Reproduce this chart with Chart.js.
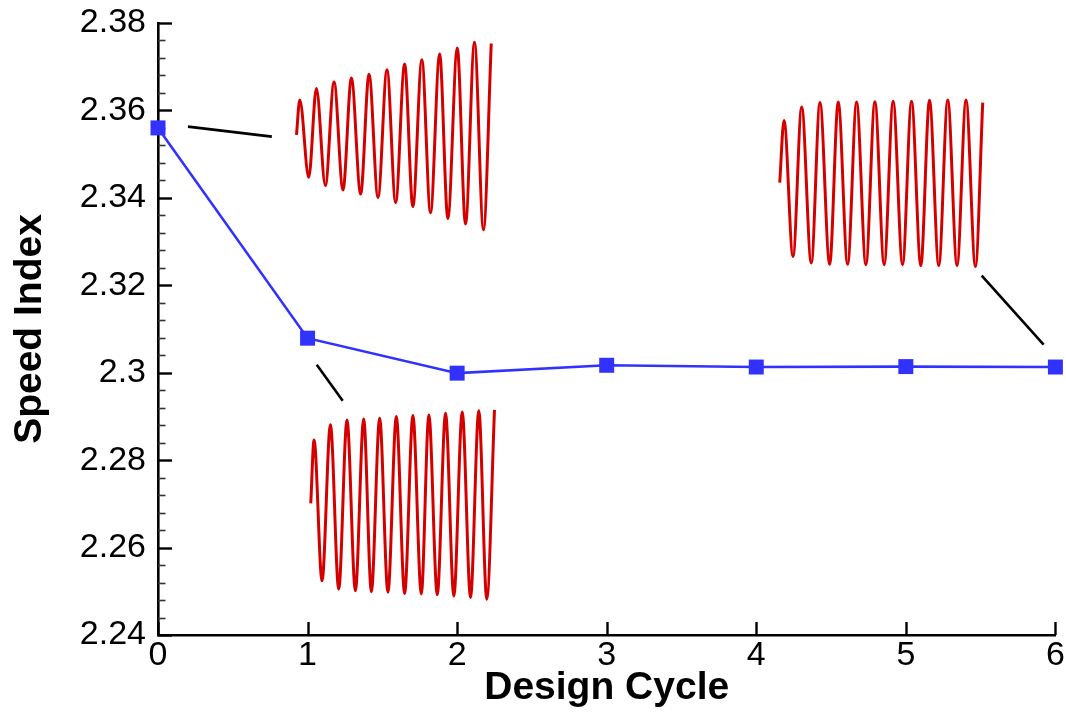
<!DOCTYPE html>
<html>
<head>
<meta charset="utf-8">
<script src="https://cdn.jsdelivr.net/npm/chart.js@4.4.1/dist/chart.umd.min.js"></script>
<style>
  html, body { margin: 0; padding: 0; background: #fff; }
  #wrap { width: 1066px; height: 712px; }
</style>
</head>
<body>
<div id="wrap"><canvas id="myChart" width="1066" height="712"></canvas></div>
<script>
// speed index per design cycle
const cycles = [0, 1, 2, 3, 4, 5, 6]
const speedIndex = [2.3560, 2.3079, 2.2999, 2.3017, 2.3013, 2.3014, 2.3013]

// axis ticks
const yMin = 2.24, yMax = 2.38, yMajor = 0.02, yMinor = 0.004
const xMin = 0, xMax = 6

// inset sketches (wave extrema, in chart units)
const inset1X = [0.926, 0.948, 1.008, 1.059, 1.119, 1.177, 1.237, 1.293, 1.355, 1.411, 1.471, 1.531, 1.589, 1.649, 1.704, 1.764, 1.822, 1.883, 1.938, 2.001, 2.056, 2.116, 2.176, 2.228]
const inset1Y = [2.3544, 2.3624, 2.3447, 2.3650, 2.3428, 2.3665, 2.3418, 2.3674, 2.3409, 2.3683, 2.3401, 2.3693, 2.3389, 2.3706, 2.3380, 2.3716, 2.3366, 2.3729, 2.3353, 2.3743, 2.3340, 2.3756, 2.3327, 2.3753]

const inset2X = [1.0214, 1.0434, 1.0968, 1.1529, 1.2083, 1.2637, 1.3198, 1.3752, 1.4266, 1.4820, 1.5374, 1.5935, 1.6489, 1.7043, 1.7604, 1.8111, 1.8672, 1.9226, 1.9780, 2.0341, 2.0895, 2.1449, 2.1983, 2.2497]
const inset2Y = [2.2701, 2.2846, 2.2524, 2.2881, 2.2505, 2.2892, 2.2501, 2.2894, 2.2499, 2.2896, 2.2498, 2.2900, 2.2495, 2.2902, 2.2494, 2.2903, 2.2492, 2.2907, 2.2489, 2.2910, 2.2486, 2.2913, 2.2482, 2.2915]

const inset3X = [4.1569, 4.1856, 4.2457, 4.3037, 4.3678, 4.4259, 4.4907, 4.5481, 4.6108, 4.6709, 4.7330, 4.7931, 4.8551, 4.9152, 4.9780, 5.0381, 5.1001, 5.1582, 5.2203, 5.2804, 5.3424, 5.4025, 5.4653, 5.5140]
const inset3Y = [2.3435, 2.3577, 2.3266, 2.3608, 2.3251, 2.3618, 2.3248, 2.3619, 2.3248, 2.3619, 2.3247, 2.3620, 2.3247, 2.3621, 2.3247, 2.3621, 2.3245, 2.3623, 2.3245, 2.3624, 2.3245, 2.3624, 2.3243, 2.3618]

// leader lines from points to insets
const lead1X = [0.2003, 0.7610], lead1Y = [2.3563, 2.3540]
const lead2X = [1.0614, 1.2350], lead2Y = [2.3018, 2.2936]
const lead3X = [5.5073, 5.9212], lead3Y = [2.3222, 2.3064]

const FONT = "'Liberation Sans', Helvetica, Arial, sans-serif"

const pts = (xs, ys) => xs.map((x, i) => ({ x: x, y: ys[i] }))

const wave = (xs, ys) => ({
    data: pts(xs, ys),
    borderColor: '#d40000',
    borderWidth: 3,
    pointRadius: 0,
    cubicInterpolationMode: 'monotone',
    fill: false
})

const leader = (xs, ys) => ({
    data: pts(xs, ys),
    borderColor: '#000',
    borderWidth: 2.6,
    pointRadius: 0,
    fill: false
})

// ticks pointing into the plot
const innerTicks = {
    id: 'innerTicks',
    beforeDatasetsDraw(chart) {
        const c = chart.ctx
        const area = chart.chartArea
        const ys = chart.scales.y
        const xs = chart.scales.x
        c.save()
        ys.ticks.forEach(t => {
            const k = t.value / yMajor
            const major = Math.abs(k - Math.round(k)) < 1e-6
            const py = Math.round(ys.getPixelForValue(t.value)) + 0.5
            c.lineWidth = major ? 2.4 : 1.6
            c.strokeStyle = major ? '#000' : '#333'
            c.beginPath()
            c.moveTo(area.left, py)
            c.lineTo(area.left + (major ? 14 : 7.5), py)
            c.stroke()
        })
        c.strokeStyle = '#000'
        c.lineWidth = 2.4
        xs.ticks.forEach(t => {
            const px = Math.round(xs.getPixelForValue(t.value)) + 0.5
            c.beginPath()
            c.moveTo(px, area.bottom)
            c.lineTo(px, area.bottom - 13)
            c.stroke()
        })
        c.restore()
    }
}

const ctx = document.getElementById('myChart')
new Chart(ctx, {
    type: 'line',
    data: {
        datasets: [
            {
                data: pts(cycles, speedIndex),
                borderColor: '#3232ff',
                backgroundColor: '#3232ff',
                borderWidth: 2.6,
                pointStyle: 'rect',
                pointRadius: 10.6,
                pointBorderWidth: 0,
                clip: false,
                fill: false
            },
            wave(inset1X, inset1Y),
            wave(inset2X, inset2Y),
            wave(inset3X, inset3Y),
            leader(lead1X, lead1Y),
            leader(lead2X, lead2Y),
            leader(lead3X, lead3Y)
        ]
    },
    options: {
        responsive: false,
        animation: false,
        events: [],
        layout: { padding: { top: 23, right: 9, left: 0, bottom: 0 } },
        plugins: { legend: { display: false }, tooltip: { enabled: false } },
        scales: {
            x: {
                type: 'linear',
                min: xMin,
                max: xMax,
                afterFit: s => { s.height = 77 },
                grid: { drawOnChartArea: false, drawTicks: false },
                border: { color: '#000', width: 2.6 },
                ticks: {
                    stepSize: 1,
                    color: '#000',
                    padding: 0,
                    maxRotation: 0,
                    font: { family: FONT, size: 34 }
                },
                title: {
                    display: true,
                    text: 'Design Cycle',
                    color: '#000',
                    padding: { top: 0, bottom: 0 },
                    font: { family: FONT, size: 39, weight: 'bold' }
                }
            },
            y: {
                min: yMin,
                max: yMax,
                afterFit: s => {
                    s.width = 158
                    s.paddingTop = 0
                    s.paddingBottom = 0
                },
                grid: { drawOnChartArea: false, drawTicks: false },
                border: { color: '#000', width: 2.6 },
                ticks: {
                    stepSize: yMinor,
                    autoSkip: false,
                    color: '#000',
                    padding: 12,
                    font: { family: FONT, size: 34 },
                    callback: v => {
                        const k = v / yMajor
                        if (Math.abs(k - Math.round(k)) > 1e-6) return ''
                        return String(parseFloat(v.toFixed(2)))
                    }
                },
                title: {
                    display: true,
                    text: 'Speed Index',
                    color: '#000',
                    padding: { top: 7, bottom: 0 },
                    font: { family: FONT, size: 39, weight: 'bold' }
                }
            }
        }
    },
    plugins: [innerTicks]
})
</script>
</body>
</html>
